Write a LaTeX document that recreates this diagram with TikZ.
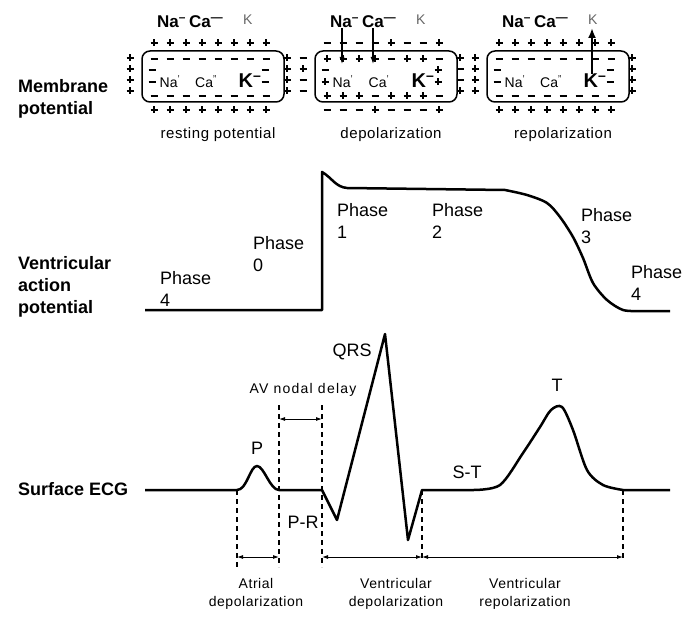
\documentclass[tikz,border=0pt]{standalone}
\usepackage{fontspec}
\setmainfont{Liberation Sans}
\newfontfamily\smallfont[LetterSpace=4]{Liberation Sans}
\newfontfamily\widefont[LetterSpace=9]{Liberation Sans}
\usetikzlibrary{arrows.meta}

% one charge sign: #1 = p (plus) or m (minus)
\newcommand{\sgn}[3]{%
  \draw[charge] (#2-3.5,#3) -- (#2+3.5,#3);
  \if#1p\draw[charge] (#2,#3-3.5) -- (#2,#3+3.5);\fi}

\tikzset{
  charge/.style={line width=1.1pt},
  cellbox/.style={draw, line width=1.5pt, rounded corners=8pt, minimum width=142pt, minimum height=51pt, inner sep=0pt},
  ion/.style={font=\fontsize{17}{20}\selectfont\bfseries, inner sep=0pt},
  kout/.style={font=\fontsize{14}{16}\selectfont, text=black!60, inner sep=0pt},
  ionin/.style={font=\fontsize{14}{16}\selectfont, inner sep=0pt},
  kin/.style={font=\fontsize{20}{22}\selectfont\bfseries, inner sep=0pt},
  caption/.style={font=\fontsize{15}{18}\selectfont\smallfont, inner sep=0pt},
  rowlabel/.style={font=\fontsize{18}{22}\selectfont\bfseries, align=left, anchor=west, inner sep=0pt},
  phase/.style={font=\fontsize{18}{22}\selectfont, align=left, anchor=north west, inner sep=0pt},
  wave/.style={font=\fontsize{18}{22}\selectfont, inner sep=0pt},
  interval/.style={font=\fontsize{14}{18}\selectfont\smallfont, align=center, inner sep=0pt},
  trace/.style={line width=2.5pt, line join=round},
  influx/.style={line width=1.2pt, -{Latex[length=7pt,width=5pt]}},
  efflux/.style={line width=2.8pt, -{Latex[length=10pt,width=8pt]}},
  guide/.style={line width=1.1pt, dash pattern=on 5pt off 4pt},
  dim/.style={line width=0.9pt, {Latex[length=6pt,width=4pt]}-{Latex[length=6pt,width=4pt]}}
}

\begin{document}
\begin{tikzpicture}[x=1pt,y=-1pt]
\useasboundingbox (0,0) rectangle (692,620);

% row labels
\node[rowlabel] (lmem) at (18,99) {Membrane\\potential};
\node[rowlabel] (lvap) at (18,287) {Ventricular\\action\\potential};
\node[rowlabel] (lecg) at (18,489) {Surface ECG};

% membrane cells
\foreach \L/\i/\cl/\txt in {142/1/{''}/resting potential,315/2/{'}/depolarization,487/3/{''}/repolarization}{
  \node[cellbox] (cell\i) at (\L+71,76.5) {};
  \node[ion,anchor=base west] (na\i) at (\L+15,28) {Na\textsuperscript{–}};
  \node[ion,anchor=base west] (ca\i) at (\L+47,28) {Ca\textsuperscript{—}};
  \node[kout,anchor=base west] (ko\i) at (\L+101,25) {K};
  \node[ionin] (nai\i) at (\L+28,82) {Na\textsuperscript{'}};
  \node[ionin] (cai\i) at (\L+64,82) {Ca\textsuperscript{\cl}};
  \node[kin] (ki\i) at (\L+108,81) {K\textsuperscript{–}};
  \node[caption] (cap\i) at (\L+76,135) {\txt};
}

% charges, resting and repolarized cells
\foreach \L in {142,487}{
  \foreach \k in {0,...,7}{
    \sgn{p}{\L+12+16*\k}{43} \sgn{m}{\L+12+16*\k}{59}
    \sgn{m}{\L+12+16*\k}{96} \sgn{p}{\L+12+16*\k}{110}}
  \foreach \y in {58,69,80,91}{\sgn{p}{\L-12}{\y} \sgn{p}{\L+145}{\y}}
  \foreach \y in {70,82}{\sgn{m}{\L+10}{\y} \sgn{m}{\L+123}{\y}}
}

% charges, depolarized cell
\foreach \s [count=\k from 0] in {m,m,m,m,p,m,m,p} {\sgn{\s}{327+16*\k}{43}}
\foreach \s [count=\k from 0] in {p,p,p,p,m,p,p,m} {\sgn{\s}{327+16*\k}{59}}
\foreach \s [count=\k from 0] in {p,p,p,m,p,p,p,m} {\sgn{\s}{327+16*\k}{96}}
\foreach \s [count=\k from 0] in {m,m,m,p,m,m,m,p} {\sgn{\s}{327+16*\k}{110}}
\foreach \s [count=\k from 0] in {m,p,m,m} {\sgn{\s}{303}{58+11*\k}}
\foreach \s [count=\k from 0] in {p,m,m,p} {\sgn{\s}{460}{58+11*\k}}
\foreach \s [count=\k from 0] in {m,p} {\sgn{\s}{325}{70+12*\k}}
\foreach \s [count=\k from 0] in {p,p} {\sgn{\s}{438}{70+12*\k}}

% ion flow
\coordinate (nain) at (342,64);
\coordinate (cain) at (373,64);
\coordinate (kup) at (592,28);
\draw[influx] (nain |- na2.south) -- (nain);
\draw[influx] (cain |- ca2.south) -- (cain);
\draw[efflux] (kup |- ki3.north) -- (kup);

% ventricular action potential
\draw[trace] (145,310) -- (322,310) -- (322,172) to[out=-30,in=175] (347,188) -- (505,190)
  -- plot[smooth] coordinates {(505,190) (527,195) (547,203) (560,217) (573,237) (583,258)
  (593,283) (607,300) (623,310) (640,311)} -- (670,311);
\node[phase] (ph4) at (160,271) {Phase\\4};
\node[phase] (ph0) at (253,236) {Phase\\0};
\node[phase] (ph1) at (337,203) {Phase\\1};
\node[phase] (ph2) at (432,203) {Phase\\2};
\node[phase] (ph3) at (581,208) {Phase\\3};
\node[phase] (ph4b) at (631,265) {Phase\\4};

% surface ECG
\coordinate (pon) at (237,490);
\coordinate (poff) at (279,490);
\coordinate (qon) at (322,490);
\coordinate (soff) at (422,490);
\coordinate (toff) at (623,490);
\draw[trace] (145,490) -- (pon) .. controls (247,490) and (250,466) .. (257,466)
  .. controls (264,466) and (270,490) .. (poff) -- (qon) -- (337,520) -- (385,334)
  -- (408,540) -- (soff) -- (473,490)
  -- plot[smooth] coordinates {(473,490) (500,485) (523,453) (540,427) (551,410) (562,407)
  (573,430) (587,470) (603,485) (toff)} -- (670,490);
\node[wave] (pw) at (257,448) {P};
\node[wave] (qrs) at (352,352) {QRS};
\node[wave] (tw) at (557,385) {T};
\node[wave] (st) at (467,472) {S-T};
\node[wave] (pr) at (303,522) {P-R};

% guides and intervals
\coordinate (top) at (0,405);
\coordinate (low) at (0,567);
\coordinate (mid) at (0,560);
\coordinate (avrow) at (0,419);
\coordinate (dimrow) at (0,557);
\draw[guide] (pon) -- (pon |- low);
\draw[guide] (poff |- top) -- (poff |- low);
\draw[guide] (qon |- top) -- (qon |- low);
\draw[guide] (soff) -- (soff |- mid);
\draw[guide] (toff) -- (toff |- mid);
\draw[dim] (poff |- avrow) -- (qon |- avrow);
\draw[dim] (pon |- dimrow) -- (poff |- dimrow);
\draw[dim] (qon |- dimrow) -- (soff |- dimrow);
\draw[dim] (soff |- dimrow) -- (toff |- dimrow);
\node[interval, font=\fontsize{14}{18}\selectfont\widefont] (av) at (303,390) {AV nodal delay};
\node[interval] (atr) at (256,594) {Atrial\\depolarization};
\node[interval] (vdep) at (396,594) {Ventricular\\depolarization};
\node[interval] (vrep) at (525,594) {Ventricular\\repolarization};
\end{tikzpicture}
\end{document}
